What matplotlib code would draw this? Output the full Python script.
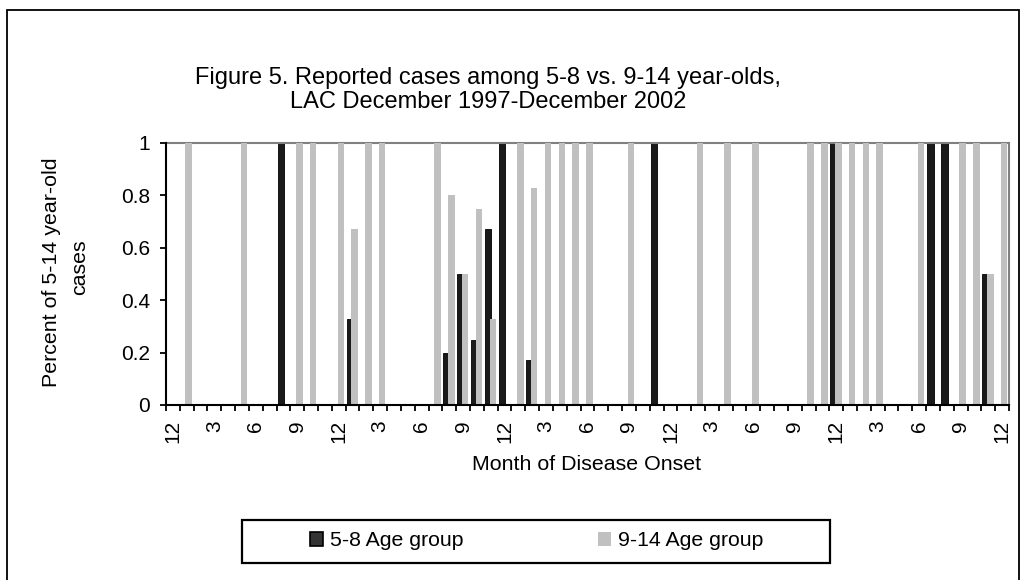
import numpy as np
import matplotlib
matplotlib.use("Agg")
import matplotlib.pyplot as plt
from matplotlib.patches import Patch, Rectangle

plt.rcParams['font.family'] = ['Liberation Sans', 'DejaVu Sans']

# monthly share of 5-14 year-old cases, Dec 1997 .. Dec 2002 (61 months)
age_5_8 = [0, 0, 0, 0, 0, 0, 0, 0, 1, 0,
           0, 0, 0, 0.33, 0, 0, 0, 0, 0, 0,
           0.2, 0.5, 0.25, 0.67, 1, 0, 0.17, 0, 0, 0,
           0, 0, 0, 0, 0, 1, 0, 0, 0, 0,
           0, 0, 0, 0, 0, 0, 0, 0, 1, 0,
           0, 0, 0, 0, 0, 1, 1, 0, 0, 0.5,
           0]
age_9_14 = [0, 1, 0, 0, 0, 1, 0, 0, 0, 1,
            1, 0, 1, 0.67, 1, 1, 0, 0, 0, 1,
            0.8, 0.5, 0.75, 0.33, 0, 1, 0.83, 1, 1, 1,
            1, 0, 0, 1, 0, 0, 0, 0, 1, 0,
            1, 0, 1, 0, 0, 0, 1, 1, 1, 1,
            1, 1, 0, 0, 1, 0, 0, 1, 1, 0.5,
            1]
month_labels = ['12', '3', '6', '9', '12', '3', '6', '9', '12', '3', '6',
                '9', '12', '3', '6', '9', '12', '3', '6', '9', '12']

x = np.arange(len(age_5_8))
W, H = 1027, 580

fig = plt.figure(figsize=(10.27, 5.80), dpi=100)
ax = fig.add_axes([166 / W, 1 - 405 / H, 843 / W, 262 / H])

ax.bar(x - 0.185, age_5_8, width=0.47, color='#1a1a1a', edgecolor='black', linewidth=0.6, zorder=2)
ax.bar(x + 0.145, age_9_14, width=0.47, color='#c0c0c0', linewidth=0, zorder=3)

ax.set_xlim(-0.5, len(x) - 0.5)
ax.set_ylim(0, 1)
ax.set_yticks(np.arange(0, 1.01, 0.2))
ax.set_yticklabels(['0', '0.2', '0.4', '0.6', '0.8', '1'])
ax.set_xticks(x[::3])
ax.set_xticklabels(month_labels, rotation=90)
ax.set_xticks(np.arange(-0.5, len(x)), minor=True)
ax.tick_params(axis='x', which='major', length=0, pad=11, labelsize=15)
ax.tick_params(axis='x', which='minor', length=4.5, width=1.3, direction='out')
ax.tick_params(axis='y', length=4.5, width=1.3, labelsize=15, pad=7)

for s in ['left', 'bottom']:
    ax.spines[s].set_linewidth(1.5)
    ax.spines[s].set_zorder(5)
for s in ['top', 'right']:
    ax.spines[s].set_color('#808080')
    ax.spines[s].set_linewidth(1.5)

fig.text(488 / W, 1 - 78 / H, 'Figure 5. Reported cases among 5-8 vs. 9-14 year-olds,',
         ha='center', va='center', fontsize=17)
fig.text(488 / W, 1 - 102 / H, 'LAC December 1997-December 2002',
         ha='center', va='center', fontsize=17)
fig.text(52 / W, 1 - 272 / H, 'Percent of 5-14 year-old', rotation=90,
         ha='center', va='center', fontsize=15.4)
fig.text(80 / W, 1 - 267 / H, 'cases', rotation=90,
         ha='center', va='center', fontsize=15.4)
fig.text(587 / W, 1 - 465 / H, 'Month of Disease Onset', ha='center', va='center', fontsize=15.4)

handles = [Patch(facecolor='#333333', edgecolor='black', linewidth=1.2, label='5-8 Age group'),
           Patch(facecolor='#c0c0c0', edgecolor='none', label='9-14 Age group')]
fig.legend(handles=handles, loc='center left', ncol=2, bbox_to_anchor=(310 / W, 1 - 541 / H),
           fontsize=15.3, frameon=False, handlelength=0.62, handleheight=0.62,
           handletextpad=0.33, columnspacing=6.3, borderpad=0, borderaxespad=0)

# legend box and chart border
fig.patches.append(Rectangle((242 / W, 1 - 563 / H), 588 / W, 43 / H, transform=fig.transFigure,
                             fill=False, edgecolor='black', linewidth=1.6))
fig.patches.append(Rectangle((7 / W, -0.05), 1012 / W, 1.05 - 10 / H, transform=fig.transFigure,
                             fill=False, edgecolor='black', linewidth=1.3))

fig.savefig('out.png', dpi=100)
